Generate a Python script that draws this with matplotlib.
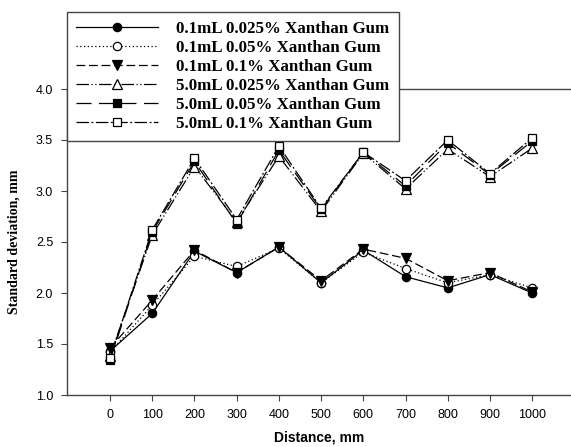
import matplotlib
matplotlib.use("Agg")
import matplotlib.pyplot as plt

distance = [0, 100, 200, 300, 400, 500, 600, 700, 800, 900, 1000]
labels = ["0.1mL 0.025% Xanthan Gum", "0.1mL 0.05% Xanthan Gum", "0.1mL 0.1% Xanthan Gum",
          "5.0mL 0.025% Xanthan Gum", "5.0mL 0.05% Xanthan Gum", "5.0mL 0.1% Xanthan Gum"]
s1 = [1.43, 1.80, 2.41, 2.20, 2.45, 2.10, 2.42, 2.16, 2.05, 2.18, 2.00]
s2 = [1.42, 1.88, 2.36, 2.26, 2.44, 2.10, 2.40, 2.24, 2.10, 2.18, 2.05]
s3 = [1.46, 1.93, 2.42, 2.20, 2.45, 2.12, 2.43, 2.34, 2.12, 2.20, 2.01]
s4 = [1.38, 2.57, 3.24, 2.70, 3.34, 2.80, 3.37, 3.02, 3.41, 3.14, 3.42]
s5 = [1.34, 2.60, 3.29, 2.68, 3.40, 2.82, 3.38, 3.05, 3.47, 3.16, 3.49]
s6 = [1.36, 2.62, 3.32, 2.72, 3.44, 2.83, 3.38, 3.10, 3.50, 3.17, 3.52]
series = [s1, s2, s3, s4, s5, s6]
yticks = [1.0, 1.5, 2.0, 2.5, 3.0, 3.5, 4.0]

styles = [
    dict(ls="-", marker="o", mfc="black", ms=6),
    dict(ls=(0, (1, 2)), marker="o", mfc="white", ms=6),
    dict(ls=(0, (7, 3)), marker="v", mfc="black", ms=7),
    dict(ls=(0, (10, 2, 1, 2, 1, 2)), marker="^", mfc="white", ms=7),
    dict(ls=(0, (12, 6)), marker="s", mfc="black", ms=6),
    dict(ls=(0, (10, 2, 1.5, 2)), marker="s", mfc="white", ms=6),
]

fig = plt.figure(figsize=(5.71, 4.47), dpi=100)
ax = fig.add_axes([67/571, 52/447, 504/571, 306/447])
handles = []
for y, st, lab in zip(series, styles, labels):
    h, = ax.plot(distance, y, color="black", lw=0.9, linestyle=st["ls"], marker=st["marker"],
                 mfc=st["mfc"], mec="black", ms=st["ms"], mew=0.9, label=lab)
    handles.append(h)

ax.set_xlim(-102, 1092)
ax.set_ylim(1.0, 4.0)
ax.set_xticks(distance)
ax.set_yticks(yticks)
ax.set_yticklabels([f"{v:.1f}" for v in yticks])
ax.spines["right"].set_visible(False)
for sp in ["left", "bottom", "top"]:
    ax.spines[sp].set_color("#444444")
    ax.spines[sp].set_linewidth(1.0)
ax.tick_params(direction="out", length=4, width=0.8, color="#444444", labelsize=9, pad=6)
for t in ax.get_xticklabels() + ax.get_yticklabels():
    t.set_family("Liberation Sans")
ax.set_xlabel("Distance, mm", family="Liberation Sans", fontweight="bold", fontsize=10, labelpad=7)
ax.set_ylabel("Standard deviation, mm", family="Liberation Serif", fontweight="bold", fontsize=10, labelpad=11)

leg = fig.legend(handles=handles, loc="upper left", bbox_to_anchor=(67/571, 1 - 12/447),
                 prop={"family": "Liberation Serif", "weight": "bold", "size": 12.2},
                 frameon=True, fancybox=False, edgecolor="#444444", framealpha=1,
                 handlelength=4.8, handletextpad=1.1, labelspacing=0.17, borderpad=0.55,
                 borderaxespad=0)
leg.get_frame().set_linewidth(1.0)
fig.savefig("out.png", dpi=100)
